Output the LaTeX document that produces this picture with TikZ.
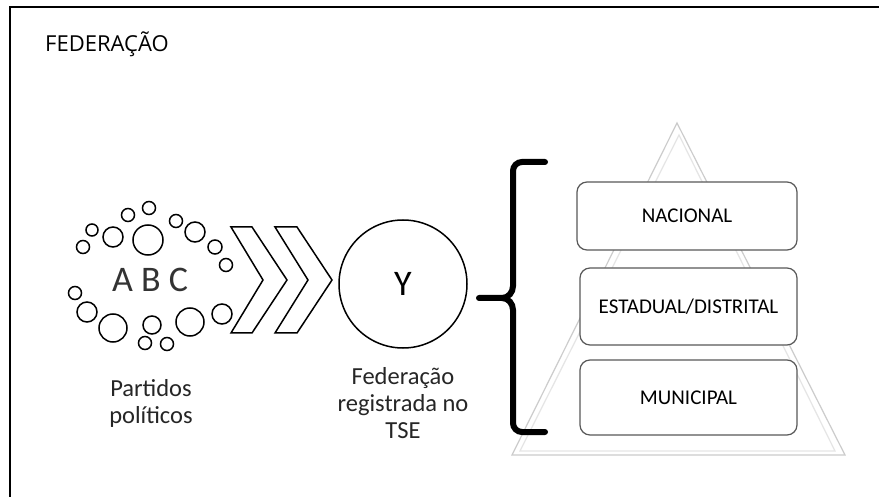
\documentclass[tikz,border=0pt]{standalone}
\usepackage{fontspec}
\setmainfont{Carlito}
\newfontfamily\titlefont{Open Sans}
\usetikzlibrary{positioning}
\tikzset {
    level box/.style={
        draw=black!65,
        fill=white,
        line width=1.2,
        rectangle, % Set the shape as a rectangle
        rounded corners=10,
        minimum width=218,
        align=center,
        font=\fontsize{21}{24}\selectfont,
    },
    bubble/.style={
        draw=black,
        line width=1.5,
        circle,
        inner sep=0,
    },
    caption/.style={
        align=center,
        inner sep=0,
        font=\fontsize{24.5}{27}\selectfont,
        text=black!85,
    },
}

\begin{document}
\begin{tikzpicture}[x=1pt, y=-1pt]
        \useasboundingbox (0,0) rectangle (879,497);
        \fill[white] (0,0) rectangle (879,497);
        % frame
        \draw[line width=2.5] (10,7) rectangle (890,510);
        \node[anchor=base west, inner sep=0, font=\titlefont\fontsize{22}{24}\selectfont] (title) at (45,52) {FEDERAÇÃO};

        % pyramid in the background
        \draw[black!20, line width=1.2] (677,123) -- (845,455) -- (512,455) -- cycle;
        \draw[black!10, line width=1.2] (679,135) -- (835,451) -- (520,451) -- cycle;

        % parties
        \foreach \x/\y/\r in {83/247/6.5, 92/230/6, 113/237/10, 148/240/15, 128/215/6.5, 149/208/6.5,
            176/221/6.5, 195/232/10, 215/247/7, 226/265/6.5, 75/293/6.5, 87/312/10, 113/328/14,
            152/325/9, 145/343/6.5, 167/344/6.5, 190/322/14, 222/314/10}
            \node[bubble, minimum size=2*\r] at (\x,\y) {};
        \node[font=\fontsize{36}{40}\selectfont, text=black!80] (abc) at (150,280) {A B C};
        \node[caption, anchor=base] (parties) at (151,423) {Partidos\\políticos};

        % chevrons
        \draw[line width=1.5, line join=miter] (231,227) -- (252,227) -- (287,280) -- (252,333) -- (231,333) -- (263,280) -- cycle;
        \draw[line width=1.5, line join=miter] (275,227) -- (297,227) -- (332,280) -- (297,333) -- (275,333) -- (308,280) -- cycle;

        % federation
        \node[bubble, minimum size=128, font=\fontsize{36}{40}\selectfont] (fed) at (403,284) {Y};
        \node[caption, anchor=base] (fedlabel) at (403,438) {Federação\\registrada no\\TSE};

        % brace
        \draw[line width=6, line cap=round] (545,162) -- (522,162) to[out=180,in=90] (513,171) -- (513,286)
            to[out=-90,in=0] (502,298) -- (479,298);
        \draw[line width=6, line cap=round] (545,432) -- (522,432) to[out=180,in=-90] (513,423) -- (513,310)
            to[out=90,in=0] (502,298);

        % levels
        \node[level box, minimum width=220, minimum height=68] (nac) at (687,216) {NACIONAL};
        \node[level box, minimum width=217, minimum height=77] (est) at (688.5,306.5) {ESTADUAL/DISTRITAL};
        \node[level box, minimum width=217, minimum height=75] (mun) at (688.5,397.5) {MUNICIPAL};

\end{tikzpicture}
\end{document}
